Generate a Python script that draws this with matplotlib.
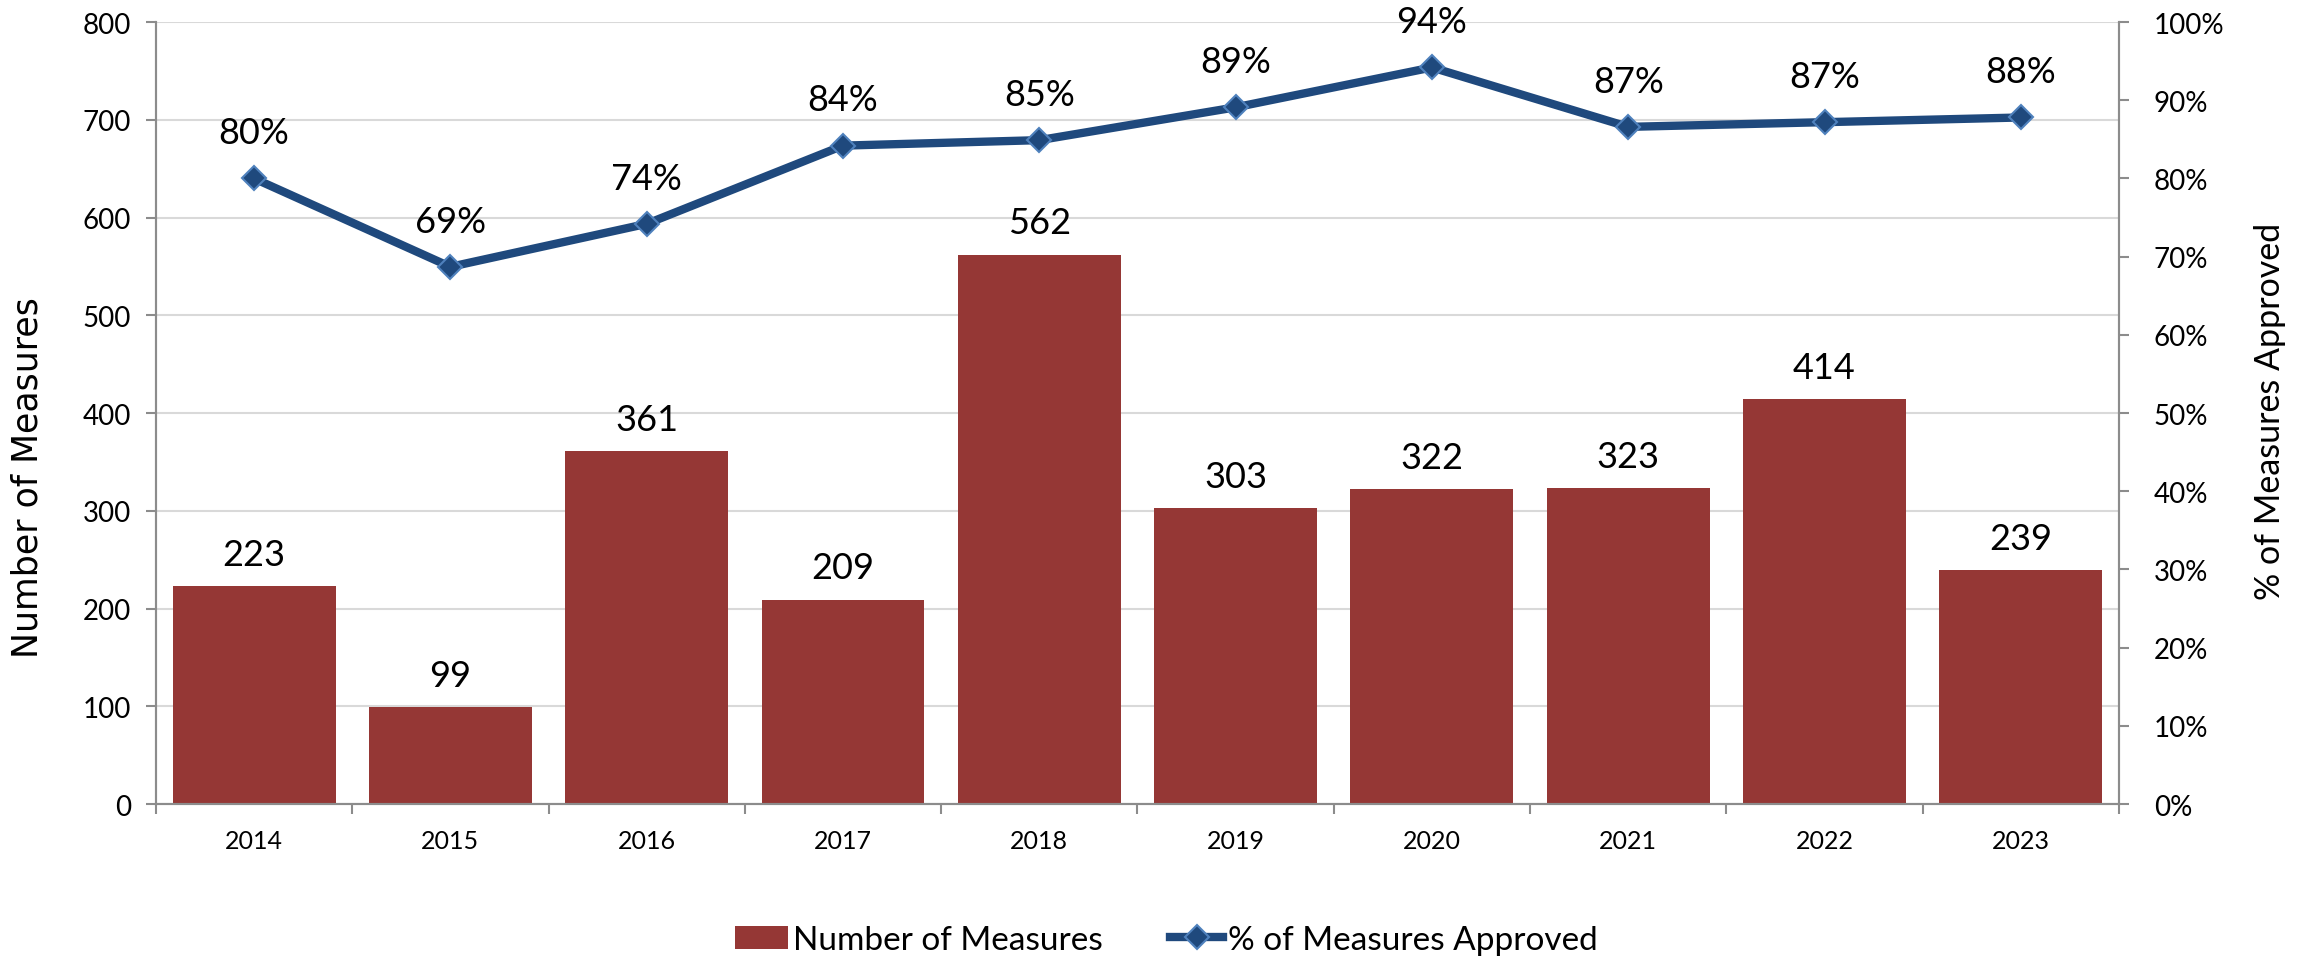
import numpy as np
import matplotlib.pyplot as plt
from matplotlib.lines import Line2D
from matplotlib.patches import Patch

plt.rcParams["font.family"] = ["Lato", "DejaVu Sans"]

years = ["2014", "2015", "2016", "2017", "2018", "2019", "2020", "2021", "2022", "2023"]
measures = [223, 99, 361, 209, 562, 303, 322, 323, 414, 239]
pct_approved = [0.80, 0.687, 0.742, 0.842, 0.849, 0.891, 0.942, 0.866, 0.872, 0.878]
pct_labels = ["80%", "69%", "74%", "84%", "85%", "89%", "94%", "87%", "87%", "88%"]

BAR = "#953735"
LINE = "#1F497D"
MEDGE = "#4F81BD"
AXIS = "#8C8C8C"
GRID = "#D9D9D9"


def main():
    fig = plt.figure(figsize=(23.1, 9.62), dpi=100)
    ax = fig.add_axes([0.0675, 0.1632, 0.8498, 0.8128])
    ax2 = ax.twinx()

    x = np.arange(len(years))
    ax.bar(x, measures, width=0.83, color=BAR, zorder=2)
    for xi, v in zip(x, measures):
        ax.annotate(str(v), (xi, v), xytext=(0, 11), textcoords="offset points",
                    ha="center", va="bottom", fontsize=26)

    ax2.plot(x, pct_approved, color=LINE, linewidth=6, marker="D", markersize=12.5,
             markerfacecolor=LINE, markeredgecolor=MEDGE, markeredgewidth=1.5, zorder=3)
    for xi, v, lab in zip(x, pct_approved, pct_labels):
        ax2.annotate(lab, (xi, v), xytext=(0, 21), textcoords="offset points",
                     ha="center", va="bottom", fontsize=26)

    ax.set_xlim(-0.5, len(years) - 0.5)
    ax.set_ylim(0, 800)
    ax.set_yticks(np.arange(0, 801, 100))
    ax2.set_ylim(0, 1.0)
    ax2.set_yticks(np.arange(0, 1.01, 0.1))
    ax2.set_yticklabels([f"{int(round(t * 100))}%" for t in np.arange(0, 1.01, 0.1)])

    ax.set_xticks(x)
    ax.set_xticklabels(years)
    ax.set_xticks(np.arange(-0.5, len(years), 1), minor=True)
    ax.tick_params(axis="x", which="major", length=0, labelsize=18, pad=18)
    ax.tick_params(axis="x", which="minor", length=7, color=AXIS, width=1.5)
    ax.tick_params(axis="y", length=7, color=AXIS, width=1.5, labelsize=20, pad=11)
    ax2.tick_params(axis="y", length=7, color=AXIS, width=1.5, labelsize=20, pad=18)

    ax.grid(axis="y", color=GRID, linewidth=1.5, zorder=0)
    ax.set_axisbelow(True)

    for a in (ax, ax2):
        a.spines["top"].set_visible(False)
        for s in ("left", "right", "bottom"):
            a.spines[s].set_color(AXIS)
            a.spines[s].set_linewidth(1.5)

    # axis titles placed like the source chart (left one sits lower than centre)
    fig.text(0.0117, 0.504, "Number of Measures", rotation=90, ha="center", va="center",
             fontsize=25, family="DejaVu Sans")
    fig.text(0.9825, 0.572, "% of Measures Approved", rotation=90, ha="center", va="center",
             fontsize=24.5)

    handles = [
        Patch(facecolor=BAR, edgecolor="none"),
        Line2D([0], [0], color=LINE, linewidth=6, marker="D", markersize=12.5,
               markerfacecolor=LINE, markeredgecolor=MEDGE, markeredgewidth=1.5),
    ]
    fig.legend(handles, ["Number of Measures", "% of Measures Approved"],
               loc="center", bbox_to_anchor=(0.505, 0.022), ncol=2, frameon=False,
               fontsize=24, handlelength=1.6, handletextpad=0.15, columnspacing=2.0)

    fig.savefig("out.png", dpi=100)


if __name__ == "__main__":
    main()
